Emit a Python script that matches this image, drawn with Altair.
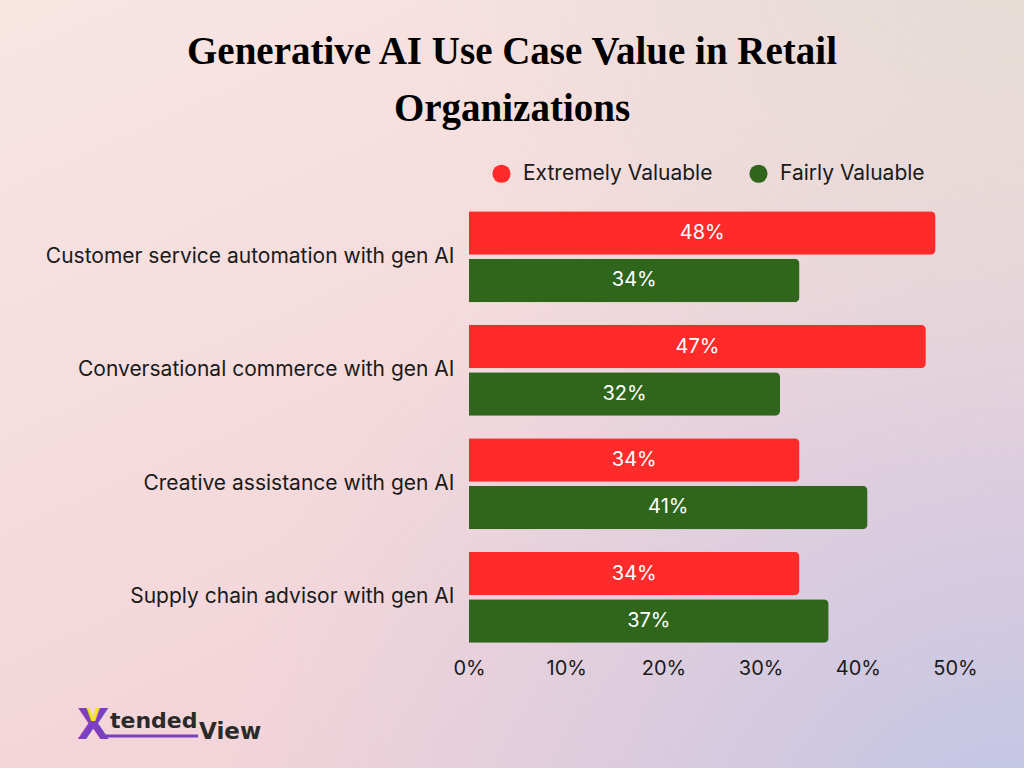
import altair as alt
import pandas as pd

# Survey categories and the share of retail organizations rating each use case
use_cases = [
    "Customer service automation with gen AI",
    "Conversational commerce with gen AI",
    "Creative assistance with gen AI",
    "Supply chain advisor with gen AI",
]
series = ["Extremely Valuable", "Fairly Valuable"]
extremely_valuable = [48, 47, 34, 34]
fairly_valuable = [34, 32, 41, 37]
x_ticks = [0, 10, 20, 30, 40, 50]
title_lines = ["Generative AI Use Case Value in Retail", "Organizations"]

rows = []
for i, uc in enumerate(use_cases):
    rows.append({"use_case": uc, "series": series[0], "value": extremely_valuable[i]})
    rows.append({"use_case": uc, "series": series[1], "value": fairly_valuable[i]})
df = pd.DataFrame(rows)
df["label"] = df["value"].astype(str) + "%"
df["mid"] = df["value"] / 2

W, H = 486, 454
PAD_L, PAD_T = 469, 200
FONT = "Inter"

# Full-canvas soft gradient backdrop (offsets are relative to the plot origin)
canvas = dict(
    x=alt.value(-PAD_L), x2=alt.value(1024 - PAD_L),
    y=alt.value(-PAD_T), y2=alt.value(768 - PAD_T),
)
one = pd.DataFrame({"k": [0]})
bg_base = alt.Chart(one).mark_rect(
    color=alt.Gradient(
        gradient="linear", x1=0, y1=0, x2=0.6, y2=1,
        stops=[
            alt.GradientStop(offset=0, color="#F8E6E3"),
            alt.GradientStop(offset=1, color="#F2D0D6"),
        ],
    )
).encode(**canvas)
bg_lavender = alt.Chart(one).mark_rect(
    color=alt.Gradient(
        gradient="radial", x1=1, y1=1, r1=0, x2=1, y2=1, r2=0.8,
        stops=[
            alt.GradientStop(offset=0, color="rgba(184,194,232,1)"),
            alt.GradientStop(offset=0.5, color="rgba(200,200,228,0.55)"),
            alt.GradientStop(offset=1, color="rgba(210,205,225,0)"),
        ],
    )
).encode(**canvas)
bg_grey = alt.Chart(one).mark_rect(
    color=alt.Gradient(
        gradient="radial", x1=1, y1=0, r1=0, x2=1, y2=0, r2=0.6,
        stops=[
            alt.GradientStop(offset=0, color="rgba(224,220,212,0.95)"),
            alt.GradientStop(offset=1, color="rgba(224,220,212,0)"),
        ],
    )
).encode(**canvas)

# Two-line heading centred on the canvas
heading = alt.layer(*[
    alt.Chart(pd.DataFrame({"t": [line]})).mark_text(
        font="Liberation Serif", fontWeight="bold", fontSize=39, color="#000000",
        align="center", baseline="alphabetic",
    ).encode(x=alt.value(512 - PAD_L), y=alt.value(base - PAD_T), text="t:N")
    for line, base in zip(title_lines, [64, 121])
])

y_enc = alt.Y(
    "use_case:N", sort=use_cases, title=None,
    scale=alt.Scale(paddingInner=0.2, paddingOuter=0.1),
    axis=alt.Axis(
        labelFont=FONT, labelFontSize=21, labelColor="#1a1a1a",
        labelPadding=15, ticks=False, domain=False, labelLimit=500, zindex=2,
    ),
)
yoff = alt.YOffset("series:N", sort=series, scale=alt.Scale(paddingInner=0.085))
x_enc = alt.X(
    "value:Q", title=None,
    scale=alt.Scale(domain=[0, 50], nice=False),
    axis=alt.Axis(
        values=x_ticks, labelExpr="datum.value + '%'", grid=False,
        ticks=False, domain=False, labelFont=FONT, labelFontSize=20,
        labelColor="#1a1a1a", labelPadding=4, labelFlush=False,
        labelOverlap=False, zindex=2,
    ),
)

bars = alt.Chart(df).mark_bar(cornerRadiusEnd=5).encode(
    y=y_enc,
    yOffset=yoff,
    x=x_enc,
    color=alt.Color(
        "series:N", sort=series,
        scale=alt.Scale(domain=series, range=["#FF2B2B", "#30661C"]),
        legend=alt.Legend(
            title=None, orient="none", direction="horizontal",
            legendX=22, legendY=-37, symbolType="circle", symbolSize=330,
            symbolStrokeWidth=0, labelFont=FONT, labelFontSize=21,
            labelColor="#1a1a1a", labelOffset=11, columnPadding=35,
            labelLimit=400, zindex=2,
        ),
    ),
)

labels = alt.Chart(df).mark_text(
    color="white", font=FONT, fontSize=20, baseline="middle", align="center",
).encode(
    y=alt.Y("use_case:N", sort=use_cases),
    yOffset=yoff,
    x=alt.X("mid:Q"),
    text="label:N",
)

# Brand mark in the lower-left corner
logo = alt.layer(
    alt.Chart(pd.DataFrame({"t": ["X"]})).mark_text(
        font="DejaVu Sans", fontWeight="bold", fontSize=42, color="#7B3FC0",
        align="left", baseline="alphabetic",
    ).encode(x=alt.value(77 - PAD_L), y=alt.value(739 - PAD_T), text="t:N"),
    alt.Chart(pd.DataFrame({"t": ["V"]})).mark_text(
        font="DejaVu Sans", fontWeight="bold", fontSize=17, color="#F2E31C",
        align="center", baseline="alphabetic",
    ).encode(x=alt.value(93 - PAD_L), y=alt.value(721 - PAD_T), text="t:N"),
    alt.Chart(pd.DataFrame({"t": ["tended"]})).mark_text(
        font="DejaVu Sans", fontWeight="bold", fontSize=22, color="#2a2a2a",
        align="left", baseline="alphabetic",
    ).encode(x=alt.value(110 - PAD_L), y=alt.value(728 - PAD_T), text="t:N"),
    alt.Chart(pd.DataFrame({"t": ["View"]})).mark_text(
        font="DejaVu Sans", fontWeight="bold", fontSize=23, color="#2a2a2a",
        align="left", baseline="alphabetic",
    ).encode(x=alt.value(199 - PAD_L), y=alt.value(739 - PAD_T), text="t:N"),
    alt.Chart(one).mark_rule(color="#7B3FC0", strokeWidth=3).encode(
        x=alt.value(100 - PAD_L), x2=alt.value(198 - PAD_L),
        y=alt.value(736 - PAD_T),
    ),
)

chart = alt.layer(bg_base, bg_lavender, bg_grey, heading, bars, labels, logo).properties(
    width=W, height=H,
    padding={"left": PAD_L, "top": PAD_T, "right": 1024 - PAD_L - W, "bottom": 768 - PAD_T - H},
    autosize=alt.AutoSizeParams(type="none"),
).configure_view(stroke=None).configure(background="#F6E0DD")

chart.save("out.html", embed_options={"renderer": "svg", "actions": False})
